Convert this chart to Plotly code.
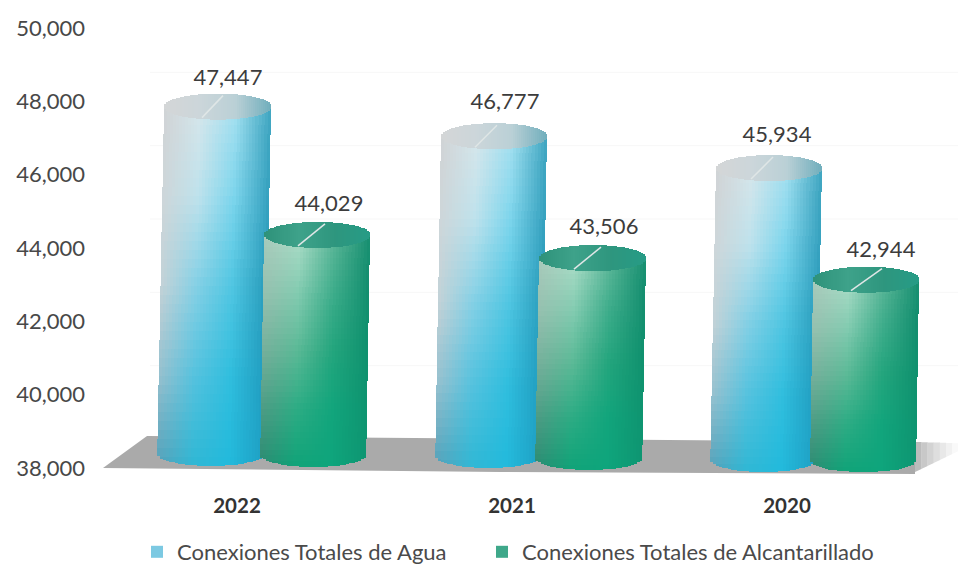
import math
import plotly.graph_objects as go

# ---- data ----
categories = ["2022", "2021", "2020"]
agua = [47447, 46777, 45934]
alcantarillado = [44029, 43506, 42944]
series_names = ["Conexiones Totales de Agua", "Conexiones Totales de Alcantarillado"]
y_ticks = [38000, 40000, 42000, 44000, 46000, 48000, 50000]

# ---- canvas geometry (pixels of the 958x566 page) ----
W, H = 958, 566
PL, PT, PB = 100, 28, 479
PX_PER_UNIT = 440 / 12000
CAT0, CAT_STEP = 237, 275


def X(px):
    return (px - CAT0) / CAT_STEP


def Y(py):
    return 38000 + (468 - py) / PX_PER_UNIT


def dy(px):
    return px / PX_PER_UNIT


x_range = [X(PL), X(W)]
y_range = [Y(PB), Y(PT)]

# style tables: 2-D colour ramps of the cylinder shading (rows top->bottom, cols left->right)
RAMP_WATER = [
    [(208, 211, 213), (214, 230, 235), (165, 224, 240), (62, 165, 192)],
    [(206, 214, 217), (190, 226, 236), (125, 213, 236), (52, 160, 190)],
    [(196, 210, 215), (132, 208, 229), (80, 198, 226), (40, 155, 186)],
    [(150, 192, 206), (85, 194, 222), (48, 190, 222), (32, 155, 190)],
    [(84, 160, 184), (48, 183, 212), (34, 186, 220), (30, 160, 196)],
]
RAMP_GREEN = [
    [(168, 202, 187), (172, 221, 200), (92, 182, 152), (22, 142, 112)],
    [(150, 192, 175), (130, 203, 176), (60, 172, 138), (18, 142, 110)],
    [(118, 175, 155), (90, 185, 150), (35, 165, 125), (15, 145, 110)],
    [(78, 155, 132), (45, 172, 132), (18, 165, 124), (14, 148, 112)],
    [(42, 138, 113), (16, 163, 120), (14, 165, 124), (14, 150, 114)],
]
TOP_WATER = [(212, 214, 215), (204, 214, 218), (186, 208, 214), (112, 174, 188)]
TOP_GREEN = [(46, 146, 122), (62, 162, 138), (46, 150, 126), (38, 156, 134)]

# left edge bottom, left edge top, width, lowest pixel, lift of the top above the value
GEOM_WATER = [(157, 164, 107, 466, 15), (435, 441, 106, 468, 10), (710, 716, 106, 472, 9)]
GEOM_GREEN = [(260, 264, 106, 467, 12), (535, 539, 107, 470, 8), (810, 813, 106, 472, 7)]
SEMI = 13
OVERLAP = 1.0  # px, hides seams between the shading segments


def lerp(a, b, t):
    return a + (b - a) * t


def ramp1(row, u):
    p = u * (len(row) - 1)
    i = min(int(p), len(row) - 2)
    f = p - i
    return tuple(lerp(row[i][k], row[i + 1][k], f) for k in range(3))


def ramp2(table, u, v):
    p = v * (len(table) - 1)
    i = min(int(p), len(table) - 2)
    f = p - i
    a, b = ramp1(table[i], u), ramp1(table[i + 1], u)
    return "rgb(%d,%d,%d)" % tuple(round(lerp(a[k], b[k], f)) for k in range(3))


def body(values, geom, ramp, lead_color):
    xs, ws, bases, hs, cols = [], [], [], [], []
    # first element feeds the legend swatch: a zero-height segment of the series' mid tone
    val0 = values[0]
    xs.append(X(geom[0][1] + geom[0][2] / 2))
    ws.append(1 / CAT_STEP)
    bases.append(val0)
    hs.append(0)
    cols.append(lead_color)
    for val, (bl, tl, w, low, lift) in zip(values, geom):
        top = val + dy(lift)
        centre_bottom = Y(low - SEMI)
        lowest = centre_bottom - dy(SEMI)
        n_col, n_row = int(w / 3), 40
        cw = w / n_col
        for c in range(n_col):
            u = (c + 0.5) / n_col
            sag = dy(SEMI) * math.sqrt(max(0, 1 - (2 * u - 1) ** 2))
            bot = centre_bottom - sag
            for r in range(n_row):
                v0, v1 = r / n_row, (r + 1) / n_row
                yhi, ylo = lerp(top, lowest, v0), lerp(top, lowest, v1)
                if yhi <= bot:
                    break
                ylo = max(ylo, bot)
                if ylo > bot:
                    ylo_draw = max(ylo - dy(OVERLAP), bot)
                else:
                    ylo_draw = ylo
                vm = (v0 + v1) / 2
                left = lerp(tl, bl, vm)
                extra = OVERLAP if c < n_col - 1 else 0
                xs.append(X(left + c * cw + (cw + extra) / 2))
                ws.append((cw + extra) / CAT_STEP)
                bases.append(ylo_draw)
                hs.append(yhi - ylo_draw)
                cols.append(ramp2(ramp, u, vm))
    return xs, ws, bases, hs, cols


def tops(values, geom, ramp):
    xs, ws, bases, hs, cols = [], [], [], [], []
    for val, (bl, tl, w, low, lift) in zip(values, geom):
        centre = val + dy(lift)
        n_col = int(w / 2)
        cw = w / n_col
        for c in range(n_col):
            u = (c + 0.5) / n_col
            h = dy(SEMI) * math.sqrt(max(0, 1 - (2 * u - 1) ** 2))
            extra = OVERLAP if c < n_col - 1 else 0
            xs.append(X(tl + c * cw + (cw + extra) / 2))
            ws.append((cw + extra) / CAT_STEP)
            bases.append(centre - h)
            hs.append(2 * h)
            cols.append("rgb(%d,%d,%d)" % tuple(round(q) for q in ramp1(ramp, u)))
    return xs, ws, bases, hs, cols


fig = go.Figure()
for vals, geom, ramp, top_ramp, name, lead, leg in [
    (agua, GEOM_WATER, RAMP_WATER, TOP_WATER, series_names[0], "#7cc9e2", "legend"),
    (alcantarillado, GEOM_GREEN, RAMP_GREEN, TOP_GREEN, series_names[1], "#3fa88a", "legend2"),
]:
    xs, ws, bs, hs, cs = body(vals, geom, ramp, lead)
    fig.add_trace(go.Bar(x=xs, y=hs, base=bs, width=ws, name=name, legend=leg,
                         marker=dict(color=cs, line=dict(width=0)),
                         hoverinfo="skip"))
    xs, ws, bs, hs, cs = tops(vals, geom, top_ramp)
    fig.add_trace(go.Bar(x=xs, y=hs, base=bs, width=ws, showlegend=False,
                         marker=dict(color=cs, line=dict(width=0)),
                         hoverinfo="skip"))

# leader lines + value labels
LABEL_X = [[228, 505, 777], [329, 604, 881]]
LABEL_UP = [[27, 33, 32], [29, 30, 28]]
LEAD_X = [[(223, 202), (497, 475), (773, 751)], [(325, 298), (601, 574), (882, 851)]]
for vals, geom, lx, lu, ld in [
    (agua, GEOM_WATER, LABEL_X[0], LABEL_UP[0], LEAD_X[0]),
    (alcantarillado, GEOM_GREEN, LABEL_X[1], LABEL_UP[1], LEAD_X[1]),
]:
    line_x, line_y = [], []
    for val, g, (x1, x0) in zip(vals, geom, ld):
        c = val + dy(g[4])
        line_x += [X(x1), X(x0), None]
        line_y += [c + dy(11), c - dy(11), None]
    fig.add_trace(go.Scatter(x=line_x, y=line_y, mode="lines", showlegend=False,
                             line=dict(color="#dfe6e6", width=1.5), hoverinfo="skip"))
    fig.add_trace(go.Scatter(
        x=[X(p) for p in lx],
        y=[v + dy(g[4] + u) for v, g, u in zip(vals, geom, lu)],
        mode="text", text=[f"{v:,}" for v in vals], showlegend=False,
        textfont=dict(family="Lato", size=22, color="#3c3c3c"),
        textposition="middle center", hoverinfo="skip"))

# floor and faint back wall lines
shapes = []


def poly(points, color):
    path = "M" + " L".join(f"{X(a):.5f},{Y(b):.2f}" for a, b in points) + " Z"
    shapes.append(dict(type="path", path=path, xref="x", yref="y", layer="below",
                       fillcolor=color, line=dict(width=0)))


for t in y_ticks[1:]:
    py = 468 - (t - 38000) * PX_PER_UNIT - 29
    shapes.append(dict(type="line", xref="x", yref="y", layer="below",
                       x0=X(150), x1=X(W), y0=Y(py), y1=Y(py),
                       line=dict(color="#f7f7f7", width=1)))

poly([(103, 468), (147, 436), (915, 442), (915, 474), (500, 472)], "#aaaaaa")
fade = ["#bcbcbc", "#c8c8c8", "#d3d3d3", "#dedede", "#e8e8e8", "#f1f1f1", "#f9f9f9"]
for i, col in enumerate(fade):
    a = 915 + i * 6.2
    b = a + 6.5
    poly([(a, 442 + i * 0.2), (b, 442 + i * 0.2), (b, 472 - (i + 1) * 3), (a, 472 - i * 3)], col)

legend_common = dict(orientation="h", xanchor="left", yanchor="middle",
                     y=(PB - 552) / (PB - PT),
                     font=dict(family="Lato", size=22, color="#4a4a4a"),
                     bgcolor="rgba(0,0,0,0)")

fig.update_layout(
    width=W, height=H,
    margin=dict(l=PL, r=0, t=PT, b=H - PB, autoexpand=False),
    paper_bgcolor="white", plot_bgcolor="white",
    barmode="overlay", bargap=0,
    shapes=shapes,
    font=dict(family="Lato", color="#404040"),
    legend=dict(x=(137 - PL) / (W - PL), **legend_common),
    legend2=dict(x=(482 - PL) / (W - PL), **legend_common),
    xaxis=dict(range=x_range, tickvals=[0, 1, 2], ticktext=categories,
               showgrid=False, zeroline=False, showline=False, ticks="",
               ticklabelstandoff=12,
               tickfont=dict(family="Lato", size=20.5, color="#333333", weight="bold")),
    yaxis=dict(range=y_range, tickvals=y_ticks, tickformat=",d",
               showgrid=False, zeroline=False, showline=False, ticks="",
               ticklabelstandoff=14,
               tickfont=dict(family="Lato", size=22, color="#484848")),
)
fig.write_html("out.html", config={"displayModeBar": False},
               post_script="document.body.style.margin='0';")
